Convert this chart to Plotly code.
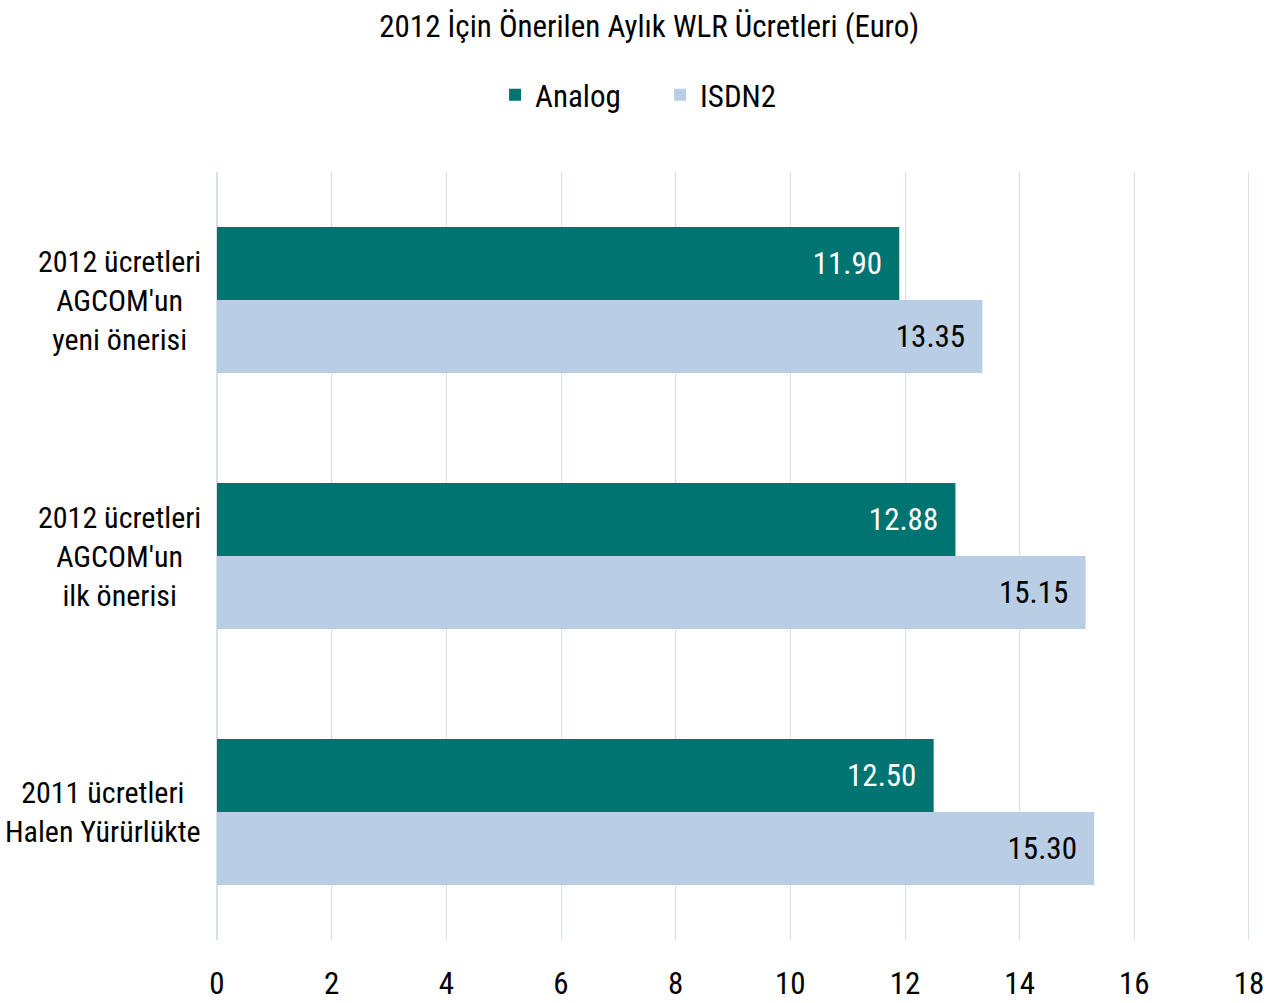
import plotly.graph_objects as go

categories = ["2012 ücretleri<br>AGCOM'un<br>yeni önerisi",
              "2012 ücretleri<br>AGCOM'un<br>ilk önerisi",
              "2011 ücretleri<br>Halen Yürürlükte"]
analog = [11.90, 12.88, 12.50]
isdn2 = [13.35, 15.15, 15.30]
tick_vals = [0, 2, 4, 6, 8, 10, 12, 14, 16, 18]

FONT = "Liberation Sans Narrow, Arial Narrow, Roboto Condensed, Liberation Sans, Arial, sans-serif"
PAD = "\u00a0\u00a0"

fig = go.Figure()
fig.add_trace(go.Bar(
    y=categories, x=analog, name="Analog", orientation="h",
    marker=dict(color="#007470", line=dict(width=0)),
    texttemplate="%{x:.2f}" + PAD, textposition="inside",
    insidetextanchor="end", textfont=dict(color="white", size=31, family=FONT),
))
fig.add_trace(go.Bar(
    y=categories, x=isdn2, name="ISDN2", orientation="h",
    marker=dict(color="#B9CDE5", line=dict(width=0)),
    texttemplate="%{x:.2f}" + PAD, textposition="inside",
    insidetextanchor="end", textfont=dict(color="black", size=31, family=FONT),
))

for c in categories:
    fig.add_annotation(x=0, xref="paper", y=c, yref="y", text=c,
                       showarrow=False, xanchor="right", xshift=-14,
                       align="center", font=dict(size=30, color="black", family=FONT))

fig.update_layout(
    width=1273, height=1003,
    paper_bgcolor="white", plot_bgcolor="white",
    font=dict(family=FONT, color="black", size=30),
    title=dict(text="2012 İçin Önerilen Aylık WLR Ücretleri (Euro)", x=0.51, xanchor="center",
               y=0.974, yanchor="middle", font=dict(size=31, color="black", family=FONT),
               automargin=False),
    legend=dict(orientation="h", x=0.4285, xanchor="center", y=1.10, yanchor="middle",
                font=dict(size=31, family=FONT), itemwidth=30, traceorder="normal",
                entrywidth=120, entrywidthmode="pixels",
                bgcolor="rgba(0,0,0,0)"),
    barmode="group", bargap=0.43, bargroupgap=0,
    margin=dict(l=217, r=22, t=172, b=63, autoexpand=False),
    xaxis=dict(range=[0, 18.035], tickvals=tick_vals, showgrid=True, gridcolor="#D6DFEC",
               gridwidth=1, zeroline=True, zerolinecolor="#D6DFEC", showline=False,
               ticks="outside", ticklen=16, tickcolor="rgba(0,0,0,0)", automargin=False,
               tickfont=dict(size=31, family=FONT, color="black")),
    yaxis=dict(autorange="reversed", showticklabels=False, showgrid=False,
               zeroline=False, showline=False, automargin=False),
    uniformtext=dict(mode=False),
)

fig.write_html("out.html", config={"displayModeBar": False},
               post_script="document.body.style.margin='0px';document.body.style.overflow='hidden';")
